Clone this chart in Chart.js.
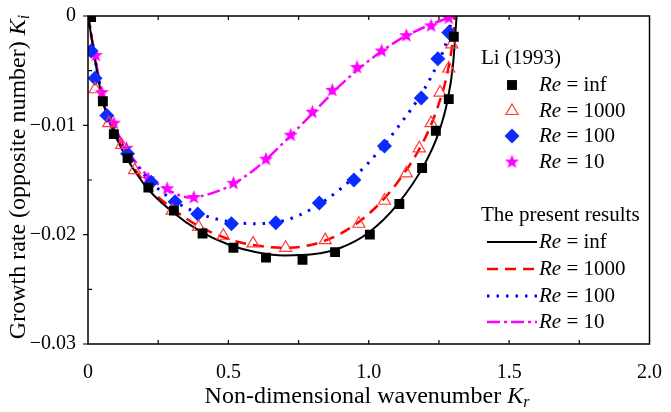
<!DOCTYPE html>
<html>
<head>
<meta charset="utf-8">
<script src="https://cdn.jsdelivr.net/npm/chart.js@4"></script>
<style>
  html, body { margin: 0; padding: 0; background: #fff; }
  #wrap { width: 671px; height: 412px; }
</style>
</head>
<body>
<div id="wrap"><canvas id="chart" width="671" height="412"></canvas></div>
<script>
// Li (1993) markers
var krInf = [0.011, 0.053, 0.092, 0.141, 0.215, 0.306, 0.408, 0.518, 0.634, 0.764, 0.880, 1.004, 1.109, 1.190, 1.239, 1.285, 1.303];
var kiInf = [-0.0001, -0.0078, -0.0108, -0.0130, -0.0157, -0.0178, -0.0199, -0.0212, -0.0221, -0.0223, -0.0216, -0.0200, -0.0172, -0.0139, -0.0105, -0.0076, -0.0019];

var kr1000 = [0.025, 0.074, 0.120, 0.166, 0.300, 0.394, 0.482, 0.588, 0.704, 0.845, 0.965, 1.056, 1.134, 1.180, 1.222, 1.254, 1.285, 1.296];
var ki1000 = [-0.0067, -0.0098, -0.0118, -0.0141, -0.0178, -0.0193, -0.0201, -0.0208, -0.0212, -0.0205, -0.0190, -0.0169, -0.0144, -0.0121, -0.0098, -0.0070, -0.0048, -0.0026];

var kr100 = [0.011, 0.025, 0.067, 0.141, 0.225, 0.310, 0.391, 0.511, 0.669, 0.824, 0.947, 1.056, 1.187, 1.246, 1.285];
var ki100 = [-0.0032, -0.0057, -0.0091, -0.0126, -0.0152, -0.0170, -0.0181, -0.0190, -0.0189, -0.0171, -0.0150, -0.0119, -0.0075, -0.0039, -0.0015];

var kr10 = [0.028, 0.049, 0.092, 0.137, 0.215, 0.282, 0.377, 0.518, 0.634, 0.722, 0.799, 0.870, 0.958, 1.046, 1.134, 1.222, 1.285];
var ki10 = [-0.0036, -0.0070, -0.0098, -0.0121, -0.0149, -0.0158, -0.0166, -0.0153, -0.0131, -0.0109, -0.0088, -0.0068, -0.0047, -0.0032, -0.0018, -0.0009, -0.0002];

// the present results (curves)
var lineKrInf = [0, 0.05, 0.1, 0.2, 0.3, 0.4, 0.5, 0.6, 0.7, 0.8, 0.9, 1.0, 1.1, 1.2, 1.25, 1.28, 1.3, 1.313];
var lineKiInf = [0, -0.0075, -0.0111, -0.0154, -0.0179, -0.0197, -0.0209, -0.0216, -0.0219, -0.0218, -0.0212, -0.0198, -0.0173, -0.0135, -0.0106, -0.0078, -0.0045, 0];

var lineKr1000 = [0, 0.05, 0.1, 0.2, 0.3, 0.4, 0.5, 0.6, 0.7, 0.8, 0.9, 1.0, 1.1, 1.2, 1.25, 1.28, 1.3, 1.306];
var lineKi1000 = [0, -0.0074, -0.0109, -0.0152, -0.0176, -0.0193, -0.0204, -0.0210, -0.0212, -0.0209, -0.0199, -0.0181, -0.0153, -0.0112, -0.0080, -0.0052, -0.0020, 0];

var lineKr100 = [0, 0.05, 0.1, 0.2, 0.3, 0.4, 0.5, 0.6, 0.7, 0.8, 0.9, 1.0, 1.1, 1.2, 1.25, 1.28, 1.298];
var lineKi100 = [0, -0.0073, -0.0107, -0.0145, -0.0168, -0.0181, -0.0188, -0.0190, -0.0187, -0.0176, -0.0158, -0.0134, -0.0103, -0.0066, -0.0041, -0.0021, 0];

var lineKr10 = [0, 0.05, 0.1, 0.2, 0.3, 0.36, 0.4, 0.5, 0.6, 0.7, 0.8, 0.9, 1.0, 1.1, 1.2, 1.28, 1.3];
var lineKi10 = [0, -0.0070, -0.0104, -0.0143, -0.0161, -0.0166, -0.0165, -0.0156, -0.0139, -0.0115, -0.0089, -0.0063, -0.0041, -0.0023, -0.0010, -0.0002, 0];

var xTicks = [0, 0.5, 1.0, 1.5, 2.0];
var yTicks = [0, -0.01, -0.02, -0.03];

var FONT = '"Liberation Serif", "Times New Roman", serif';

function pts(xs, ys) {
    return xs.map(function (x, i) { return { x: x, y: ys[i] }; });
}

// filled 5-point star for Re = 10
function makeStar(color, r) {
    var c = document.createElement('canvas');
    var s = Math.ceil(r * 2 + 2);
    c.width = s; c.height = s;
    var g = c.getContext('2d');
    g.fillStyle = color;
    g.beginPath();
    for (var i = 0; i < 10; i++) {
        var rad = (i % 2 === 0) ? r : r * 0.42;
        var a = -Math.PI / 2 + i * Math.PI / 5;
        var px = s / 2 + rad * Math.cos(a), py = s / 2 + rad * Math.sin(a);
        if (i === 0) g.moveTo(px, py); else g.lineTo(px, py);
    }
    g.closePath();
    g.fill();
    return c;
}
var starImg = makeStar('#ff00ff', 7.5);

var markerSets = [
    { label: 'Re = inf', data: pts(krInf, kiInf), pointStyle: 'rect', pointRadius: 7, backgroundColor: '#000', borderColor: '#000', borderWidth: 0 },
    { label: 'Re = 1000', data: pts(kr1000, ki1000), pointStyle: 'triangle', pointRadius: 7, backgroundColor: 'rgba(255,255,255,0)', borderColor: '#ff3b3b', borderWidth: 1.2 },
    { label: 'Re = 100', data: pts(kr100, ki100), pointStyle: 'rectRot', pointRadius: 7.5, backgroundColor: '#0a2cff', borderColor: '#0a2cff', borderWidth: 0 },
    { label: 'Re = 10', data: pts(kr10, ki10), pointStyle: starImg, pointRadius: 7, backgroundColor: '#ff00ff', borderColor: '#ff00ff', borderWidth: 0 }
];
markerSets.forEach(function (d) {
    d.showLine = false;
    d.pointHoverRadius = d.pointRadius;
    d.group = 'li';
});

var lineSets = [
    { label: 'Re = inf', data: pts(lineKrInf, lineKiInf), borderColor: '#000', borderWidth: 2, borderDash: [] },
    { label: 'Re = 1000', data: pts(lineKr1000, lineKi1000), borderColor: '#ff0000', borderWidth: 2.5, borderDash: [11, 7] },
    { label: 'Re = 100', data: pts(lineKr100, lineKi100), borderColor: '#0000ff', borderWidth: 3, borderDash: [2.5, 7] },
    { label: 'Re = 10', data: pts(lineKr10, lineKi10), borderColor: '#ff00ff', borderWidth: 2.5, borderDash: [13, 4, 3, 4] }
];
lineSets.forEach(function (d) {
    d.showLine = true;
    d.pointRadius = 0;
    d.cubicInterpolationMode = 'monotone';
    d.group = 'present';
});

// ticks, frame, titles and the two-part legend
var decor = {
    id: 'decor',
    afterDraw: function (chart) {
        var ctx = chart.ctx;
        var a = chart.chartArea;
        var xs = chart.scales.x, ys = chart.scales.y;
        ctx.save();
        ctx.strokeStyle = '#000';
        ctx.lineWidth = 1.5;
        ctx.strokeRect(a.left, a.top, a.right - a.left, a.bottom - a.top);

        ctx.lineWidth = 1.2;
        ctx.beginPath();
        // x ticks: inward, top and bottom
        for (var k = 0.25; k < 2; k += 0.25) {
            var px = xs.getPixelForValue(k);
            ctx.moveTo(px, a.bottom); ctx.lineTo(px, a.bottom - 4);
            ctx.moveTo(px, a.top); ctx.lineTo(px, a.top + 4);
        }
        // y: major ticks outward, minor ticks inward
        yTicks.forEach(function (v) {
            var py = ys.getPixelForValue(v);
            ctx.moveTo(a.left, py); ctx.lineTo(a.left - 5, py);
        });
        [-0.005, -0.015, -0.025].forEach(function (v) {
            var py = ys.getPixelForValue(v);
            ctx.moveTo(a.left, py); ctx.lineTo(a.left + 4, py);
        });
        ctx.stroke();

        ctx.fillStyle = '#000';
        ctx.textBaseline = 'middle';
        ctx.textAlign = 'left';

        function richText(parts, x, y) {
            var cx = x;
            parts.forEach(function (p) {
                ctx.font = (p.italic ? 'italic ' : '') + p.size + 'px ' + FONT;
                ctx.fillText(p.t, cx, y + (p.dy || 0));
                cx += ctx.measureText(p.t).width;
            });
            return cx;
        }
        function richWidth(parts) {
            var w = 0;
            parts.forEach(function (p) {
                ctx.font = (p.italic ? 'italic ' : '') + p.size + 'px ' + FONT;
                w += ctx.measureText(p.t).width;
            });
            return w;
        }

        // x axis title
        var xt = [
            { t: 'Non-dimensional wavenumber ', size: 24 },
            { t: 'K', size: 24, italic: true },
            { t: 'r', size: 16, italic: true, dy: 6 }
        ];
        richText(xt, 367 - richWidth(xt) / 2, 397);

        // y axis title
        var yt = [
            { t: 'Growth rate (opposite number) ', size: 24 },
            { t: 'K', size: 24, italic: true },
            { t: 'i', size: 16, italic: true, dy: 6 }
        ];
        ctx.save();
        ctx.translate(19, 177);
        ctx.rotate(-Math.PI / 2);
        richText(yt, -richWidth(yt) / 2, 0);
        ctx.restore();

        // legend
        ctx.font = '21px ' + FONT;
        ctx.fillText('Li (1993)', 481, 58);
        ctx.fillText('The present results', 481, 215);

        var rowsA = [85, 111, 136, 162];
        var rowsB = [242, 269, 296, 322];
        var mx = 512;
        chart.data.datasets.forEach(function (d, i) {
            var isLi = d.group === 'li';
            var y = isLi ? rowsA[i] : rowsB[i - 4];
            if (isLi) {
                ctx.fillStyle = d.backgroundColor;
                ctx.strokeStyle = d.borderColor;
                ctx.lineWidth = d.borderWidth;
                ctx.beginPath();
                if (d.pointStyle === 'rect') {
                    var s = d.pointRadius * Math.SQRT1_2;
                    ctx.fillRect(mx - s, y - s, 2 * s, 2 * s);
                } else if (d.pointStyle === 'rectRot') {
                    var r = d.pointRadius;
                    ctx.moveTo(mx, y - r); ctx.lineTo(mx + r, y); ctx.lineTo(mx, y + r); ctx.lineTo(mx - r, y);
                    ctx.closePath(); ctx.fill();
                } else if (d.pointStyle === 'triangle') {
                    var tr = d.pointRadius;
                    ctx.moveTo(mx, y - tr); ctx.lineTo(mx + tr * 0.87, y + tr * 0.5); ctx.lineTo(mx - tr * 0.87, y + tr * 0.5);
                    ctx.closePath(); ctx.stroke();
                } else {
                    ctx.drawImage(d.pointStyle, mx - d.pointStyle.width / 2, y - d.pointStyle.height / 2);
                }
            } else {
                ctx.strokeStyle = d.borderColor;
                ctx.lineWidth = d.borderWidth;
                ctx.setLineDash(d.borderDash);
                ctx.beginPath();
                ctx.moveTo(487, y); ctx.lineTo(537, y);
                ctx.stroke();
                ctx.setLineDash([]);
            }
            ctx.fillStyle = '#000';
            var parts = d.label.split(' = ');
            richText([
                { t: parts[0], size: 21, italic: true },
                { t: ' = ' + parts[1], size: 21 }
            ], 539, y);
        });
        ctx.restore();
    }
};

new Chart(document.getElementById('chart').getContext('2d'), {
    type: 'scatter',
    data: { datasets: markerSets.concat(lineSets) },
    options: {
        responsive: false,
        animation: false,
        events: [],
        layout: { padding: { left: 0, top: 15, right: 15, bottom: 0 } },
        plugins: { legend: { display: false }, tooltip: { enabled: false } },
        scales: {
            x: {
                type: 'linear', min: 0, max: 2,
                afterBuildTicks: function (s) { s.ticks = xTicks.map(function (v) { return { value: v }; }); },
                afterFit: function (s) { s.height = 68; },
                grid: { display: false },
                border: { display: false },
                ticks: {
                    padding: 9,
                    color: '#000',
                    font: { family: FONT, size: 20 },
                    maxRotation: 0,
                    callback: function (v) { return v === 0 ? '0' : v.toFixed(1); }
                }
            },
            y: {
                type: 'linear', min: -0.03, max: 0,
                afterBuildTicks: function (s) { s.ticks = yTicks.map(function (v) { return { value: v }; }); },
                afterFit: function (s) { s.width = 88; },
                grid: { display: false },
                border: { display: false },
                ticks: {
                    padding: 4,
                    color: '#000',
                    font: { family: FONT, size: 20 },
                    callback: function (v) { return v === 0 ? '0' : '\u2212' + Math.abs(v).toFixed(2); }
                }
            }
        }
    },
    plugins: [decor]
});
</script>
</body>
</html>
